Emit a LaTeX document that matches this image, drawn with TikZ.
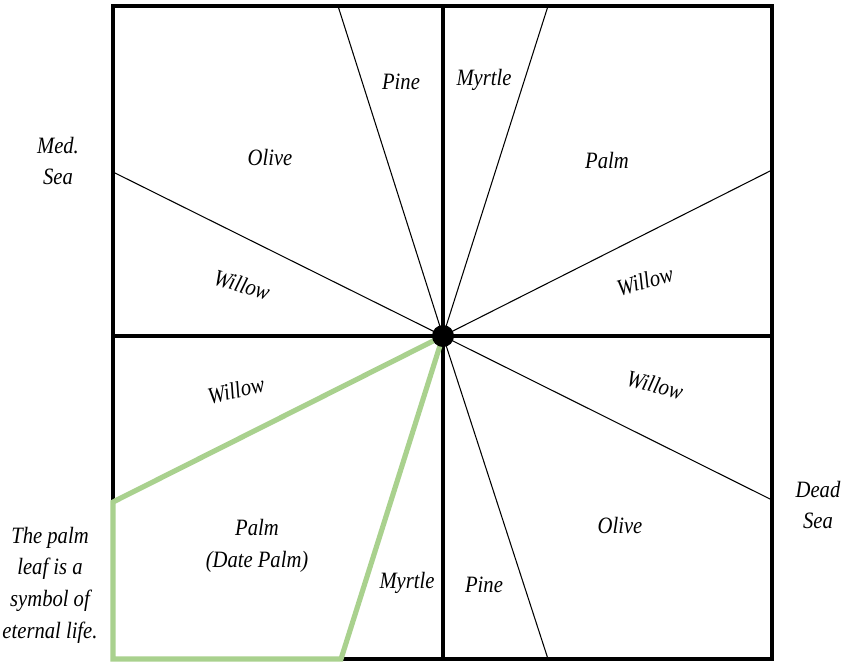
\documentclass[tikz,border=0pt]{standalone}
\usepackage{fontspec}
\setmainfont{Liberation Serif}[FakeStretch=0.88]
\usetikzlibrary{positioning}
\definecolor{leafgreen}{HTML}{A9D18E}

\begin{document}
\begin{tikzpicture}[x=0.03cm,y=-0.03cm,
  frame/.style={line width=3.2pt,black},
  spoke/.style={line width=0.9pt,black},
  leaf/.style={line width=4.4pt,color=leafgreen},
  tree/.style={font=\fontsize{20}{27}\selectfont\itshape,align=center,inner sep=0pt}]
  \useasboundingbox (0,0) rectangle (846,661);
  % garden square and its centre
  \coordinate (C)  at (443,336);
  \coordinate (NW) at (113,6);   \coordinate (SE) at (772,659);
  \coordinate (N)  at (443,6);   \coordinate (S)  at (443,659);
  \coordinate (W)  at (113,336); \coordinate (E)  at (772,336);
  % spoke ends
  \coordinate (T1) at (338,6);   \coordinate (T2) at (548,6);
  \coordinate (L1) at (113,172); \coordinate (R1) at (772,170);
  \coordinate (L2) at (113,502); \coordinate (R2) at (772,500);
  \coordinate (B1) at (341,659); \coordinate (B2) at (548,659);
  \coordinate (SW) at (113,659);
  \foreach \p in {T1,T2,L1,R1,L2,R2,B1,B2}
    \draw[spoke] (C) -- (\p);
  \draw[frame] (NW) rectangle (SE);
  \draw[frame] (N) -- (S);
  \draw[frame] (W) -- (E);
  \draw[leaf] (C) -- (L2) -- (SW) -- (B1) -- cycle;
  \fill (C) circle[radius=11];
  % trees
  \node[tree] (pineN)   at (401,82)  {Pine};
  \node[tree] (myrtleN) at (484,80)  {Myrtle};
  \node[tree] (oliveN)  at (270,157) {Olive};
  \node[tree] (palmN)   at (607,160) {Palm};
  \node[tree,rotate=-17] (willowNW) at (242,285) {Willow};
  \node[tree,rotate=15]  (willowNE) at (645,281) {Willow};
  \node[tree,rotate=13]  (willowSW) at (236,390) {Willow};
  \node[tree,rotate=-15] (willowSE) at (655,385) {Willow};
  \node[tree] (palmS)   at (257,546) {Palm\\(Date Palm)};
  \node[tree] (myrtleS) at (407,583) {Myrtle};
  \node[tree] (pineS)   at (484,585) {Pine};
  \node[tree] (oliveS)  at (620,525) {Olive};
  % seas and note
  \node[tree] (med)  at (58,161)  {Med.\\Sea};
  \node[tree] (dead) at (818,505) {Dead\\Sea};
  \node[tree] (note) at (50,585)  {The palm\\leaf is a\\symbol of\\eternal life.};
\end{tikzpicture}
\end{document}
